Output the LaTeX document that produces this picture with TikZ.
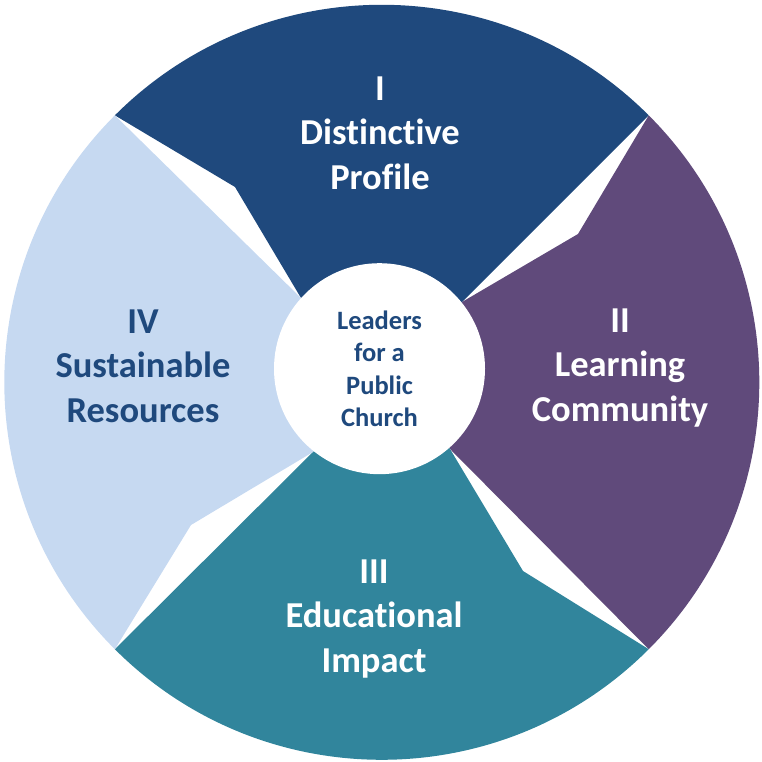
\documentclass[tikz,border=0pt]{standalone}
\usepackage{fontspec}
\setmainfont{Carlito}[RawFeature=-liga]
\definecolor{segtop}{HTML}{1F497D}
\definecolor{segright}{HTML}{604A7B}
\definecolor{segbottom}{HTML}{31859C}
\definecolor{segleft}{HTML}{C6D9F1}
\tikzset{
  seglabel/.style={align=center, inner sep=0pt, font=\bfseries\fontsize{36.5}{44.5}\selectfont},
  hublabel/.style={circle, fill=white, minimum size=211pt, inner sep=0pt, align=center,
    text=segtop, font=\bfseries\fontsize{26.5}{32.5}\selectfont}
}
\begin{document}
\begin{tikzpicture}[x=1pt,y=1pt]
\useasboundingbox (0,0) rectangle (762,762);
\coordinate (O) at (381.8,379.7);
\coordinate (I) at (379.5,393.3);
\coordinate (c45) at ([shift={(O)}]45:377.5);
\coordinate (c135) at ([shift={(O)}]135:377.5);
\coordinate (c225) at ([shift={(O)}]225:377.5);
\coordinate (c315) at ([shift={(O)}]315:377.5);
\coordinate (kT) at (235,575);
\coordinate (kR) at (578,528);
\coordinate (kB) at (523,191);
\coordinate (kL) at (191,237);
\coordinate (i135) at (301,464);
\coordinate (i45) at (462,460);
\coordinate (i315) at (450,313);
\coordinate (i225) at (313,310);
% segments
\fill[segtop] (c45) arc[start angle=45, end angle=135, radius=377.5pt] -- (kT) -- (i135) -- (I) -- (i45) -- cycle;
\fill[segright] (c45) arc[start angle=45, end angle=-45, radius=377.5pt] -- (i315) -- (I) -- (i45) -- (kR) -- cycle;
\fill[segbottom] (c315) arc[start angle=-45, end angle=-135, radius=377.5pt] -- (i225) -- (I) -- (i315) -- (kB) -- cycle;
\fill[segleft] (c225) arc[start angle=225, end angle=135, radius=377.5pt] -- (i135) -- (I) -- (i225) -- (kL) -- cycle;
% hub
\node[hublabel] (hub) at (I) {Leaders\\for a\\Public\\Church};
% labels
\node[seglabel, text=white] (lblI) at (380,629) {I\\Distinctive\\Profile};
\node[seglabel, text=white] (lblII) at (620,394) {II\\Learning\\Community};
\node[seglabel, text=white] (lblIII) at (374,143) {III\\Educational\\Impact};
\node[seglabel, text=segtop] (lblIV) at (143,396) {IV\\Sustainable\\Resources};
\end{tikzpicture}
\end{document}
